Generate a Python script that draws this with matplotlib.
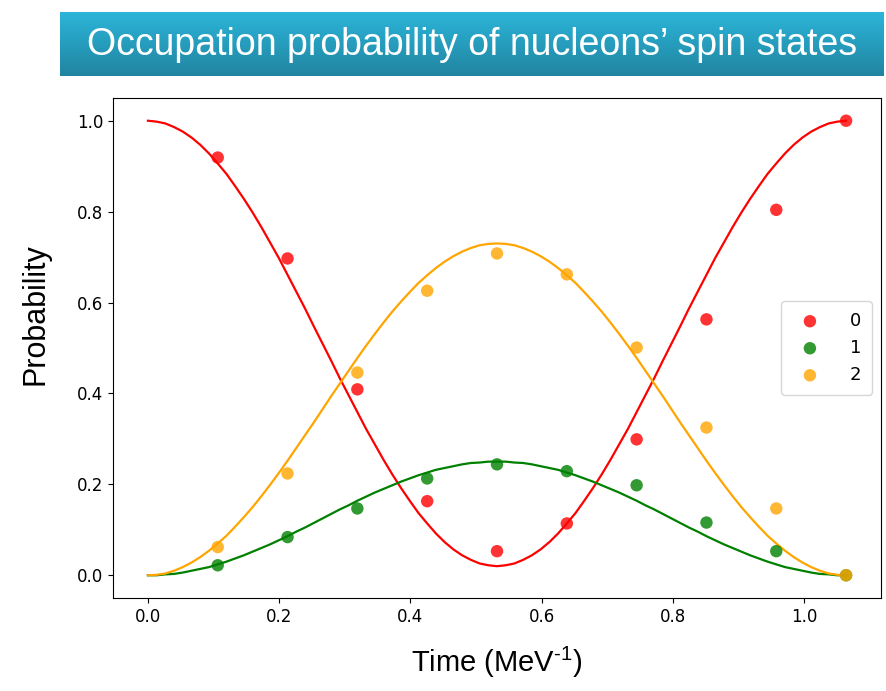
import numpy as np
import matplotlib.pyplot as plt

plt.rcParams['mathtext.fontset'] = 'custom'
plt.rcParams['mathtext.rm'] = 'Liberation Sans'

# measured populations at the sampled times
t_meas = [0.1064, 0.2128, 0.3192, 0.4256, 0.5320, 0.6384, 0.7448, 0.8512, 0.9576, 1.0640]
p0_meas = [0.919, 0.697, 0.409, 0.163, 0.053, 0.114, 0.299, 0.563, 0.804, 1.000]
p1_meas = [0.022, 0.084, 0.147, 0.213, 0.244, 0.229, 0.198, 0.116, 0.053, 0.000]
p2_meas = [0.062, 0.224, 0.446, 0.626, 0.708, 0.662, 0.501, 0.325, 0.147, 0.000]

# smooth theory curves (first half, curves are symmetric about t=0.532)
p0_half = [1.000, 0.998, 0.994, 0.986, 0.976, 0.963, 0.947, 0.928, 0.906, 0.883,
           0.856, 0.828, 0.798, 0.766, 0.732, 0.698, 0.661, 0.624, 0.587, 0.548,
           0.510, 0.472, 0.433, 0.396, 0.359, 0.322, 0.288, 0.254, 0.222, 0.192,
           0.164, 0.137, 0.114, 0.092, 0.073, 0.057, 0.044, 0.034, 0.026, 0.022, 0.020]
p1_half = [0.000, 0.000, 0.002, 0.003, 0.006, 0.010, 0.014, 0.018, 0.024, 0.030,
           0.037, 0.044, 0.052, 0.060, 0.068, 0.077, 0.086, 0.096, 0.105, 0.115,
           0.125, 0.135, 0.145, 0.154, 0.164, 0.173, 0.182, 0.190, 0.198, 0.206,
           0.213, 0.220, 0.226, 0.232, 0.236, 0.240, 0.244, 0.247, 0.248, 0.250, 0.250]
p2_half = [0.000, 0.001, 0.004, 0.010, 0.018, 0.028, 0.040, 0.054, 0.070, 0.087,
           0.107, 0.128, 0.150, 0.174, 0.199, 0.225, 0.252, 0.280, 0.308, 0.336,
           0.365, 0.394, 0.422, 0.450, 0.478, 0.505, 0.531, 0.556, 0.580, 0.602,
           0.623, 0.643, 0.660, 0.676, 0.690, 0.702, 0.712, 0.720, 0.726, 0.729, 0.730]

t_line = [i * 0.0133 for i in range(81)]
p0_line = p0_half + p0_half[-2::-1]
p1_line = p1_half + p1_half[-2::-1]
p2_line = p2_half + p2_half[-2::-1]

labels = ['0', '1', '2']
colors = ['red', 'green', 'orange']

fig = plt.figure(figsize=(8.86, 6.91), dpi=100)

# title banner with a teal gradient
bax = fig.add_axes([60/886, 1 - 76/691, 824/886, 64/691])
grad = np.linspace(0, 1, 64).reshape(-1, 1)
top = np.array([0.17, 0.71, 0.85])
bot = np.array([0.13, 0.52, 0.63])
img = top + (bot - top) * grad[:, :, None]
bax.imshow(img, aspect='auto', extent=[0, 1, 0, 1])
bax.set_xlim(0, 1)
bax.set_ylim(0, 1)
bax.axis('off')
bax.text(0.5, 0.48, 'Occupation probability of nucleons\u2019 spin states',
         color='white', fontsize=27, family='Liberation Sans',
         ha='center', va='center')

ax = fig.add_axes([113/886, 1 - 598/691, 768/886, 500/691])
for y, c in zip([p0_line, p1_line, p2_line], colors):
    ax.plot(t_line, y, color=c, lw=1.6)
for y, c, l in zip([p0_meas, p1_meas, p2_meas], colors, labels):
    ax.scatter(t_meas, y, color=c, s=80, alpha=0.8, label=l, zorder=3, edgecolors='none')

ax.set_xticks([0.0, 0.2, 0.4, 0.6, 0.8, 1.0])
ax.set_yticks([0.0, 0.2, 0.4, 0.6, 0.8, 1.0])
ax.tick_params(labelsize=12)
ax.set_xlabel('Time (MeV$^{\\mathregular{\u2010 1}}$)', fontsize=21, family='Liberation Sans', labelpad=14)
ax.set_ylabel('Probability', fontsize=22, family='Liberation Sans')
ax.yaxis.set_label_coords(-0.082, 0.568)
ax.legend(loc='center right', fontsize=13, handletextpad=1.2, borderpad=0.6)

fig.savefig('out.png', dpi=100)
